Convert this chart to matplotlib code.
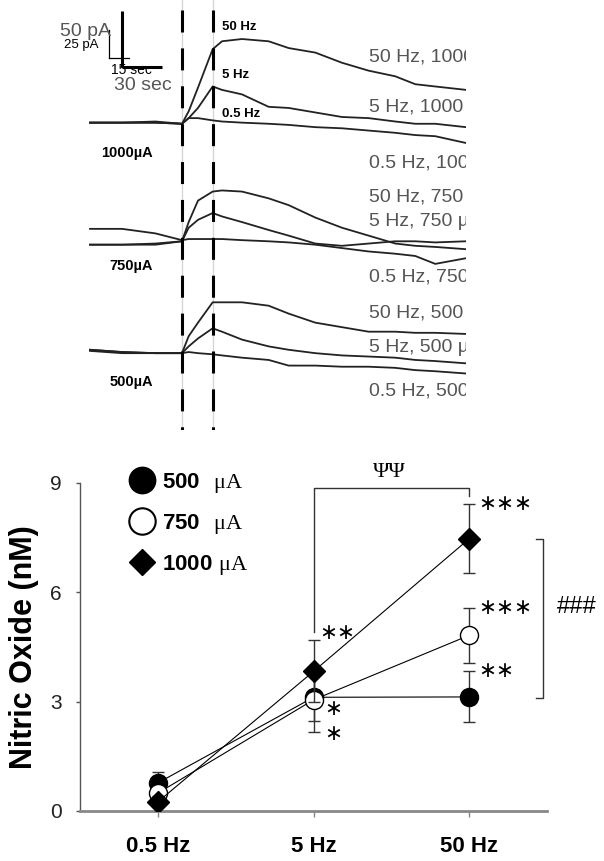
import numpy as np
import matplotlib
matplotlib.use('Agg')
import matplotlib.pyplot as plt
from matplotlib.lines import Line2D

plt.rcParams['font.family'] = ['Liberation Sans', 'DejaVu Sans']
plt.rcParams['mathtext.fontset'] = 'custom'
plt.rcParams['mathtext.rm'] = 'Liberation Serif'
plt.rcParams['mathtext.bf'] = 'Liberation Sans:bold'

### NO current traces
# time in sec from stim onset, current in pA above each row's own baseline
t_sec = [-69, -45, -20, 0, 5, 12, 23, 30, 45, 65, 80, 100, 120, 140, 160, 175, 190, 213]
stim_on, stim_off = 0, 23
amps = ['1000', '750', '500']
freqs = ['50 Hz', '5 Hz', '0.5 Hz']
row_base = [272, 168, 68]  # pA offset of each row

i1000_50 = [0, 0, 1, -1, 10, 31, 65, 72, 74, 72, 66, 62, 53, 46, 41, 34, 32, 29]
i1000_5 = [0, 0, 0, -1, 4, 13, 32, 29, 25, 14, 13, 9, 5, 4, 1, -1, -1, -4]
i1000_05 = [0, 0, 0, -1, 4, 4, 2, 1, 0, -1, -2, -4, -5, -7, -9, -11, -12, -18]
i750_50 = [-4, -4, -3, -1, 16, 35, 43, 44, 43, 37, 31, 20, 11, 4, -3, -5, -6, -8]
i750_5 = [-4, -4, -4, -1, 11, 18, 24, 21, 16, 9, 4, -3, -5, -3, -1, -1, -2, -1]
i750_05 = [10, 10, 6, 0, 1, 1, 1, 1, 0, -1, -2, -4, -7, -10, -12, -14, -21, -16]
i500_50 = [3, 1, 0, 0, 15, 27, 45, 45, 45, 42, 35, 27, 23, 19, 19, 18, 18, 17]
i500_5 = [3, 1, 0, 0, 6, 13, 22, 19, 12, 6, 3, 0, -2, -3, -4, -6, -7, -9]
i500_05 = [2, 0, 0, 0, 1, 0, -1, -2, -4, -6, -11, -11, -12, -12, -13, -15, -16, -18]
rows = [[i1000_50, i1000_5, i1000_05],
        [i750_50, i750_5, i750_05],
        [i500_50, i500_5, i500_05]]

scale_big = (30, 50)    # sec, pA
scale_small = (15, 25)

### nitric oxide summary
freq_labels = ['0.5 Hz', '5 Hz', '50 Hz']
no_500 = [0.77, 3.12, 3.13]
no_750 = [0.49, 3.05, 4.82]
no_1000 = [0.25, 3.83, 7.47]
err_500 = [0.30, 0.65, 0.70]
err_750 = [0.20, 0.88, 0.76]
err_1000 = [0.15, 0.85, 0.95]

W, H = 604, 861
fig = plt.figure(figsize=(W / 100, H / 100), dpi=100)

# ---- top panel: traces ----
ax_top = fig.add_axes([0, 1 - 430 / H, 466 / W, 430 / H])
tx = lambda x: (x - 182) / 1.333   # px -> sec
ty = lambda y: (430 - y) / 1.13    # px -> pA
ax_top.set_xlim(tx(0), tx(466))
ax_top.set_ylim(ty(430), ty(0))
ax_top.axis('off')

for t0 in (stim_on, stim_off):
    ax_top.plot([t0, t0], [ty(0), ty(430)], color='#d4d4d4', lw=0.9, zorder=1)
    ax_top.plot([t0, t0], [ty(10), ty(430)], color='black', lw=2.2,
                dashes=(7.2, 5.2), zorder=3)

for base, group in zip(row_base, rows):
    for y in group:
        ax_top.plot(t_sec, np.array(y) + base, color='#222222', lw=1.3, zorder=2)

# scale bars
x0, y0 = tx(122), ty(67)
ax_top.plot([x0, x0 + scale_big[0]], [y0, y0], color='black', lw=2.2, solid_capstyle='butt')
ax_top.plot([x0, x0], [y0, y0 + scale_big[1]], color='black', lw=2.2, solid_capstyle='butt')
x1, y1 = tx(109), ty(58)
ax_top.plot([x1, x1 + scale_small[0]], [y1, y1], color='black', lw=0.9)
ax_top.plot([x1, x1], [y1, y1 + scale_small[1]], color='black', lw=0.9)
ax_top.text(tx(111), ty(32), f'{scale_big[1]} pA', fontsize=14, color='#555555',
            ha='right', va='center')
ax_top.text(tx(98), ty(45), f'{scale_small[1]} pA', fontsize=9.5, color='black',
            ha='right', va='center')
ax_top.text(tx(143), ty(85), f'{scale_big[0]} sec', fontsize=14, color='#555555',
            ha='center', va='center')
ax_top.text(tx(131), ty(70), f'{scale_small[0]} sec', fontsize=10, color='black',
            ha='center', va='center')

# labels
for lab, ypx in zip(freqs, [27, 75, 114]):
    ax_top.text(tx(222), ty(ypx), lab, fontsize=9.5, fontweight='bold',
                ha='left', va='center')
for a, ypx in zip(amps, [153, 266, 382]):
    ax_top.text(tx(153), ty(ypx), a + 'µA', fontsize=10.5, fontweight='bold',
                ha='right', va='center')
right_y = [58, 107, 163, 198, 222, 278, 313, 347, 392]
k = 0
for a in amps:
    for f in freqs:
        ax_top.text(tx(369), ty(right_y[k]), f'{f}, {a} µA', fontsize=14,
                    color='#555555', ha='left', va='center', clip_on=True)
        k += 1

# ---- bottom panel: NO concentration ----
ax = fig.add_axes([80 / W, (H - 811) / H, 467 / W, 328 / H])
x = np.arange(len(freq_labels))
common = dict(color='black', lw=0.8, mec='black', mew=1.0, ecolor='#333333',
              elinewidth=1.0, capsize=4, capthick=1.0)
ax.errorbar(x, no_500, yerr=err_500, fmt='-o', ms=13, mfc='black', zorder=3, **common)
ax.errorbar(x, no_750, yerr=err_750, fmt='-o', ms=13, mfc='white', zorder=4, **common)
ax.errorbar(x, no_1000, yerr=err_1000, fmt='-D', ms=11, mfc='black', zorder=5, **common)

ax.set_xlim(-0.5, 2.5)
ax.set_ylim(0, 9)
ax.set_yticks([0, 3, 6, 9])
ax.set_xticks(x)
ax.set_xticklabels(freq_labels, fontsize=16, fontweight='bold')
ax.tick_params(axis='y', labelsize=15, length=3, width=1, color='#555555',
               labelcolor='#222222', pad=10)
ax.tick_params(axis='x', length=4, width=1, color='#888888', pad=14)
for s in ['top', 'right']:
    ax.spines[s].set_visible(False)
ax.spines['left'].set_color('#555555')
ax.spines['left'].set_linewidth(1.0)
ax.spines['bottom'].set_color('#888888')
ax.spines['bottom'].set_linewidth(2.0)
ax.set_ylabel('Nitric Oxide (nM)', fontsize=22, fontweight='bold', labelpad=8)

handles = [Line2D([], [], ls='none', marker='o', ms=19, mfc='black', mec='black'),
           Line2D([], [], ls='none', marker='o', ms=19, mfc='white', mec='black', mew=1.5),
           Line2D([], [], ls='none', marker='D', ms=13.5, mfc='black', mec='black')]
labels = [r'$\mathbf{500}\ \ \mathrm{\mu A}$', r'$\mathbf{750}\ \ \mathrm{\mu A}$',
          r'$\mathbf{1000}\ \mathrm{\mu A}$']
ax.legend(handles, labels, loc='upper left', bbox_to_anchor=(0.105, 1.036),
          frameon=False, fontsize=16, handlelength=1.2, handletextpad=0.3,
          labelspacing=0.75, borderpad=0, borderaxespad=0)

# significance marks
star = dict(fontsize=15.5, family='DejaVu Sans', ha='left', va='center', clip_on=False)
ax.text(2.06, no_1000[2] + err_1000[2], '∗∗∗', **star)
ax.text(2.06, no_750[2] + err_750[2], '∗∗∗', **star)
ax.text(2.06, no_500[2] + err_500[2], '∗∗', **star)
ax.text(1.04, no_1000[1] + err_1000[1] + 0.2, '∗∗', **star)
ax.text(1.07, 2.80, '∗', **star)
ax.text(1.07, 2.12, '∗', **star)

ax.plot([1, 1, 2, 2], [4.92, 8.85, 8.85, 8.63], color='#333333', lw=1.0, clip_on=False)
ax.text(1.49, 9.3, 'ΨΨ', fontsize=16, family='Liberation Serif', ha='center',
        va='center', clip_on=False)
ax.plot([2.43, 2.476, 2.476, 2.43], [7.45, 7.45, 3.1, 3.1], color='#333333', lw=1.0,
        clip_on=False)
ax.text(2.69, 5.6, '###', fontsize=17, ha='center', va='center', clip_on=False)

fig.savefig('out.png', dpi=100)
